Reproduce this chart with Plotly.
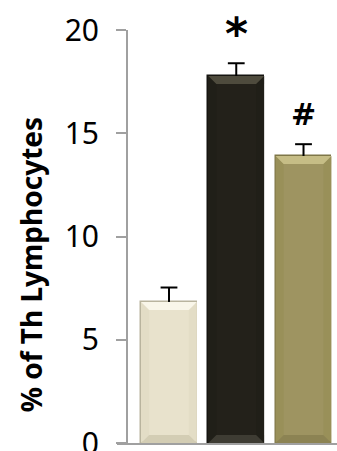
import plotly.graph_objects as go

# Group means and SEM for Th lymphocytes (%)
groups = ["Group 1", "Group 2", "Group 3"]
values = [6.83, 17.77, 13.9]
errors = [0.7, 0.62, 0.57]
bar_colors = ["#E8E2CC", "#23211A", "#9E9461"]
edge_colors = ["#B9B49E", "#151410", "#7E7648"]
bevel_top = ["#F9F6E9", "#4E4B3D", "#C6BD86"]
bevel_side = ["#E3DDC6", "#201F18", "#999059"]
bevel_bottom = ["#D3CDB4", "#3E3C33", "#8C8353"]
marks = ["", "*", "#"]
y_ticks = [0, 5, 10, 15, 20]

xpos = list(range(len(groups)))
tops = [v + e for v, e in zip(values, errors)]
bar_w = 0.83

fig = go.Figure()
fig.add_trace(go.Bar(
    x=xpos,
    y=values,
    width=bar_w,
    marker=dict(color=bar_colors, line=dict(color=edge_colors, width=1.5)),
    hoverinfo="skip",
))

# bevelled bar faces
dx, dy = 0.12, 0.39
for x, v, ct, cs, cb in zip(xpos, values, bevel_top, bevel_side, bevel_bottom):
    xl, xr = x - bar_w / 2, x + bar_w / 2
    faces = [
        ([(xl, v), (xl + dx, v - dy), (xl + dx, dy), (xl, 0)], cs),
        ([(xr, v), (xr - dx, v - dy), (xr - dx, dy), (xr, 0)], cs),
        ([(xl, v), (xr, v), (xr - dx, v - dy), (xl + dx, v - dy)], ct),
        ([(xl, 0), (xr, 0), (xr - dx, dy), (xl + dx, dy)], cb),
    ]
    for pts, col in faces:
        path = "M " + " L ".join("%f,%f" % p for p in pts) + " Z"
        fig.add_shape(type="path", path=path, xref="x", yref="y",
                      fillcolor=col, line=dict(width=0), layer="above")

# upper-only error bars: stem from bar top to mean + SEM, with a cap
stem_x, stem_y = [], []
for x, v, t in zip(xpos, values, tops):
    stem_x += [x, x, None]
    stem_y += [v, t, None]
fig.add_trace(go.Scatter(
    x=stem_x, y=stem_y, mode="lines",
    line=dict(color="#000000", width=2), hoverinfo="skip",
))
fig.add_trace(go.Scatter(
    x=xpos, y=tops, mode="markers",
    marker=dict(symbol="line-ew", size=12, line=dict(color="#000000", width=2)),
    hoverinfo="skip",
))

# significance marks above the error bars
for i, m in enumerate(marks):
    if not m:
        continue
    fig.add_annotation(
        x=xpos[i], y=tops[i], xref="x", yref="y",
        text="<b>%s</b>" % m, showarrow=False, yanchor="bottom",
        yshift=2 if m == "*" else 10,
        font=dict(family="DejaVu Sans, sans-serif", size=44 if m == "*" else 30,
                  color="#000000"),
    )

# y-axis title
fig.add_annotation(
    text="<b>% of Th Lymphocytes</b>", textangle=-90, showarrow=False,
    xref="paper", yref="paper", x=-0.39, y=0.433,
    xanchor="center", yanchor="middle",
    font=dict(family="Noto Sans, sans-serif", size=28, color="#000000"),
)

fig.update_layout(
    width=337, height=451,
    margin=dict(l=117, r=0, t=30, b=8),
    paper_bgcolor="white", plot_bgcolor="white",
    showlegend=False,
    bargap=0,
    xaxis=dict(
        range=[-0.773, 2.498], showticklabels=False, ticks="",
        showgrid=False, zeroline=False, showline=True,
        linecolor="#A0A0A0", linewidth=2, fixedrange=True,
    ),
    yaxis=dict(
        range=[0, 20], tickvals=y_ticks, ticks="outside", ticklen=10,
        tickwidth=2, tickcolor="#A0A0A0", showgrid=False, zeroline=False,
        showline=True, linecolor="#A0A0A0", linewidth=2,
        anchor="free", position=10 / 220, automargin=False,
        ticklabelstandoff=11, ticklabeloverflow="allow",
        tickfont=dict(family="Noto Sans, sans-serif", size=30, color="#000000"),
    ),
)

fig.write_html("out.html")
